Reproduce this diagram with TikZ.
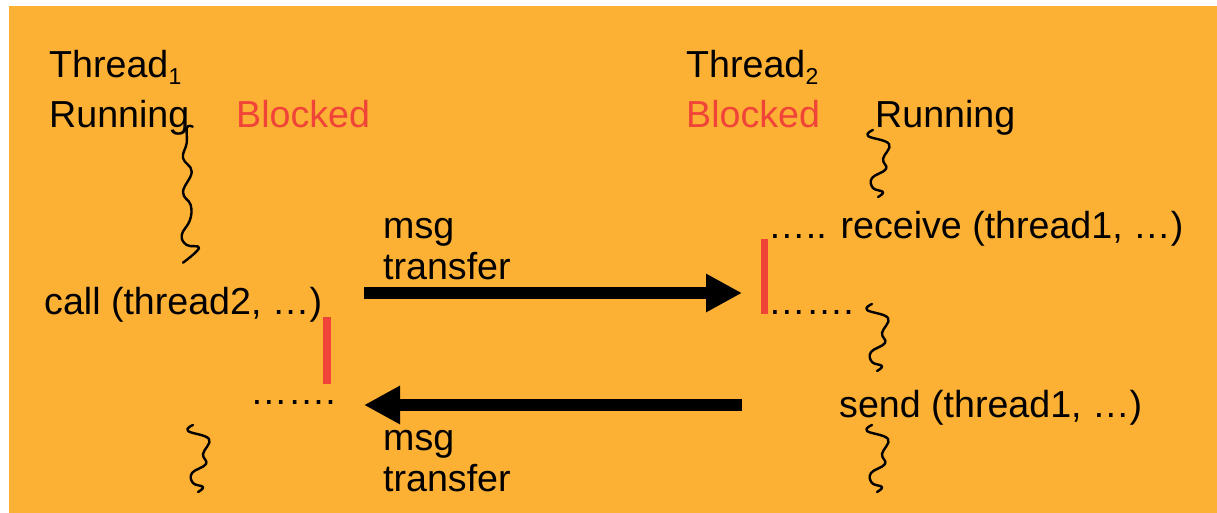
\documentclass[tikz,border=0pt]{standalone}
\usepackage{fontspec}
\setmainfont{Liberation Sans}
\usetikzlibrary{arrows.meta}
\definecolor{slidebg}{RGB}{252,176,52}
\definecolor{blockred}{RGB}{240,68,56}
\tikzset{
  txt/.style={anchor=base west, inner sep=0pt, font=\fontsize{37.6}{40}\selectfont},
  redtxt/.style={txt, text=blockred},
  sub/.style={anchor=base west, inner sep=0pt, font=\fontsize{23}{25}\selectfont},
  bar/.style={fill=blockred, draw=none},
  squig/.style={line width=2.4pt, line cap=round, line join=round},
  msgarrow/.style={line width=12pt, -{Triangle[length=36pt,width=36pt]}}
}
\begin{document}
\begin{tikzpicture}[x=1pt,y=-1pt]
\useasboundingbox (0,0) rectangle (1217,513);
\fill[slidebg] (9,6) rectangle (1217,513);

% thread 1
\node[txt] (t1) at (49,78) {Thread};
\node[sub] (t1s) at (t1.base east) [yshift=-7pt] {1};
\node[txt] (run1) at (49,128) {Running};
\node[redtxt] (blk1) at (236,128) {Blocked};
\node[txt] (call) at (44,314) {call (thread2, …)};
\node[txt] (dots1) at (250,404) {…….};

% thread 2
\node[txt] (t2) at (686,78) {Thread};
\node[sub] (t2s) at (t2.base east) [yshift=-7pt] {2};
\node[redtxt] (blk2) at (686,128) {Blocked};
\node[txt] (run2) at (875,128) {Running};
\node[txt] (recv) at (768,238) {….. receive (thread1, …)};
\node[txt] (dots2) at (768,314) {…….};
\node[txt] (send) at (839,417) {send (thread1, …)};

% message labels
\node[txt] (msg1) at (383,238) {msg};
\node[txt] (tr1) at (383,279) {transfer};
\node[txt] (msg2) at (383,450) {msg};
\node[txt] (tr2) at (383,491) {transfer};

% blocking bars
\fill[bar] (323,317) rectangle (331,384);
\fill[bar] (761,239) rectangle (768,314);

% message arrows
\coordinate (a1s) at (364,293);
\coordinate (a1e) at (742,293);
\coordinate (a2s) at (742,405);
\coordinate (a2e) at (364,405);
\draw[msgarrow] (a1s) -- (a1e);
\draw[msgarrow] (a2s) -- (a2e);

% execution squiggles
\draw[squig] plot[smooth, tension=0.7] coordinates {(192.7,126.7) (187,127.5) (186.7,143) (183,158) (191.7,171.7) (183,192) (190.7,205) (190,220) (181.7,235) (186.7,245) (199,248) (183,262.7)};
\foreach \sx/\sy in {193/425, 873/130, 872/304, 872/425} {
  \draw[squig, shift={(\sx,\sy)}] plot[smooth, tension=0.7] coordinates {(0,0) (-5,6) (16,14) (10,29) (13,39) (-1,48) (0,58) (10,62) (5,67)};
}
\end{tikzpicture}
\end{document}
